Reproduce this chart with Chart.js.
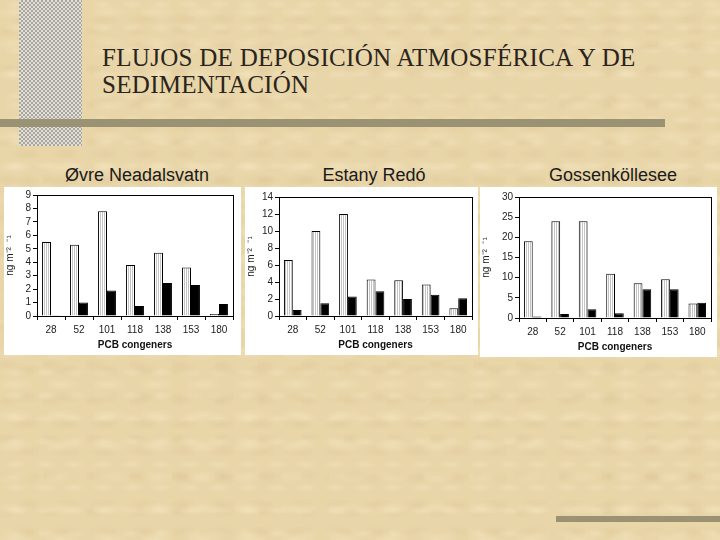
<!DOCTYPE html>
<html>
<head>
<meta charset="utf-8">
<script src="https://cdn.jsdelivr.net/npm/chart.js@4.4.1/dist/chart.umd.min.js"></script>
<style>
  html, body { margin: 0; padding: 0; }
  body {
    width: 720px; height: 540px; position: relative; overflow: hidden;
    background-color: #e8d5a8;
    background-image:
      radial-gradient(ellipse 30px 10px at 30% 40%, rgba(250,235,200,0.35), transparent 70%),
      radial-gradient(ellipse 24px 9px at 70% 70%, rgba(210,185,135,0.22), transparent 70%),
      radial-gradient(ellipse 18px 7px at 55% 20%, rgba(250,238,208,0.3), transparent 70%),
      radial-gradient(ellipse 20px 8px at 15% 85%, rgba(210,185,140,0.2), transparent 70%);
    background-size: 47px 31px, 39px 27px, 29px 23px, 43px 37px;
    font-family: Arial, "Liberation Sans", sans-serif;
  }
  .strip {
    position: absolute; left: 19px; top: 0; width: 63px; height: 146px;
    background: repeating-conic-gradient(#a9a69e 0 25%, #e2e0d8 0 50%) 0 0 / 4px 4px;
  }
  .rule { position: absolute; background: #9b9274; }
  .heading {
    position: absolute; left: 102px; top: 44px;
    font-family: "Liberation Serif", "Times New Roman", serif;
    font-size: 25px; line-height: 27px; color: #2a241c; letter-spacing: 0.3px;
  }
  .ptitle {
    position: absolute; font-size: 18px; color: #1a1a1a; text-align: center;
  }
  canvas { position: absolute; }
</style>
</head>
<body>
<div class="strip"></div>
<div class="rule" style="left:0; top:119px; width:665px; height:8px;"></div>
<div class="rule" style="left:556px; top:516px; width:164px; height:6px;"></div>
<div class="heading">FLUJOS DE DEPOSICIÓN ATMOSFÉRICA Y DE<br>SEDIMENTACIÓN</div>

<div class="ptitle" style="left:4px; top:165px; width:266px;">Øvre Neadalsvatn</div>
<div class="ptitle" style="left:245px; top:165px; width:258px;">Estany Redó</div>
<div class="ptitle" style="left:480px; top:165px; width:266px;">Gossenköllesee</div>

<canvas id="c1" width="237" height="168" style="left:4px; top:187px;"></canvas>
<canvas id="c2" width="233" height="168" style="left:245px; top:187px;"></canvas>
<canvas id="c3" width="237" height="170" style="left:480px; top:187px;"></canvas>

<script>
const congeners = ['28', '52', '101', '118', '138', '153', '180'];

// Øvre Neadalsvatn
const ovreLight = [5.5, 5.3, 7.8, 3.8, 4.7, 3.6, 0.15];
const ovreDark = [0.05, 1.0, 1.9, 0.75, 2.45, 2.3, 0.9];
const ovreTicks = [0, 1, 2, 3, 4, 5, 6, 7, 8, 9];

// Estany Redó
const redoLight = [6.6, 10.0, 12.0, 4.3, 4.2, 3.7, 0.9];
const redoDark = [0.7, 1.5, 2.3, 2.9, 2.0, 2.5, 2.1];
const redoTicks = [0, 2, 4, 6, 8, 10, 12, 14];

// Gossenköllesee
const gossLight = [19, 24, 24, 11, 8.6, 9.6, 3.6];
const gossDark = [0.4, 1.0, 2.2, 1.2, 7.1, 7.1, 3.8];
const gossTicks = [0, 5, 10, 15, 20, 25, 30];

const yLabel = 'ng m⁻²  ⁻¹';

function stripes() {
    const c = document.createElement('canvas');
    c.width = 2; c.height = 2;
    const g = c.getContext('2d');
    g.fillStyle = '#ffffff'; g.fillRect(0, 0, 2, 2);
    g.fillStyle = '#c4c4c4'; g.fillRect(0, 0, 1, 2);
    return g.createPattern(c, 'repeat');
}

const panelBox = {
    id: 'panelBox',
    beforeDraw(chart) {
        const ctx = chart.ctx;
        ctx.save();
        ctx.fillStyle = '#ffffff';
        ctx.fillRect(0, 0, chart.width, chart.height);
        ctx.restore();
    },
    afterDatasetsDraw(chart) {
        const a = chart.chartArea, ctx = chart.ctx;
        ctx.save();
        ctx.strokeStyle = '#000';
        ctx.lineWidth = 1;
        ctx.strokeRect(Math.round(a.left) + 0.5, Math.round(a.top) + 0.5,
            Math.round(a.right - a.left), Math.round(a.bottom - a.top));
        ctx.restore();
    }
};

function makeChart(id, light, dark, ticks, yWidth, pad) {
    const max = ticks[ticks.length - 1];
    const step = ticks[1] - ticks[0];
    new Chart(document.getElementById(id), {
        type: 'bar',
        data: {
            labels: congeners,
            datasets: [
                { data: light, backgroundColor: stripes(), borderColor: '#000', borderWidth: 1,
                  categoryPercentage: 0.64, barPercentage: 1 },
                { data: dark, backgroundColor: '#000', borderColor: '#000', borderWidth: 1,
                  categoryPercentage: 0.64, barPercentage: 1 }
            ]
        },
        options: {
            responsive: false,
            animation: false,
            layout: { padding: pad },
            plugins: { legend: { display: false }, tooltip: { enabled: false } },
            scales: {
                x: {
                    offset: true,
                    grid: { drawOnChartArea: false, drawTicks: true, tickLength: 4, color: '#000', offset: true },
                    border: { color: '#000' },
                    ticks: { color: '#222', font: { size: 10 }, padding: 4, maxRotation: 0, autoSkip: false },
                    title: { display: true, text: 'PCB congeners', color: '#111',
                             font: { size: 10, weight: 'bold' }, padding: { top: 1 } },
                    afterFit(s) { s.height = 39; }
                },
                y: {
                    min: 0, max: max,
                    grid: { drawOnChartArea: false, drawTicks: true, tickLength: 4, color: '#000' },
                    border: { color: '#000' },
                    ticks: { stepSize: step, color: '#222', font: { size: 10 }, padding: 2, autoSkip: false },
                    title: { display: true, text: yLabel, color: '#222', font: { size: 10 }, padding: 0 },
                    afterFit(s) { s.width = yWidth; }
                }
            }
        },
        plugins: [panelBox]
    });
}

makeChart('c1', ovreLight, ovreDark, ovreTicks, 33, { left: 0, top: 8, right: 8, bottom: 0 });
makeChart('c2', redoLight, redoDark, redoTicks, 34, { left: 0, top: 10, right: 6, bottom: 0 });
makeChart('c3', gossLight, gossDark, gossTicks, 39, { left: 0, top: 10, right: 6, bottom: 0 });
</script>
</body>
</html>
